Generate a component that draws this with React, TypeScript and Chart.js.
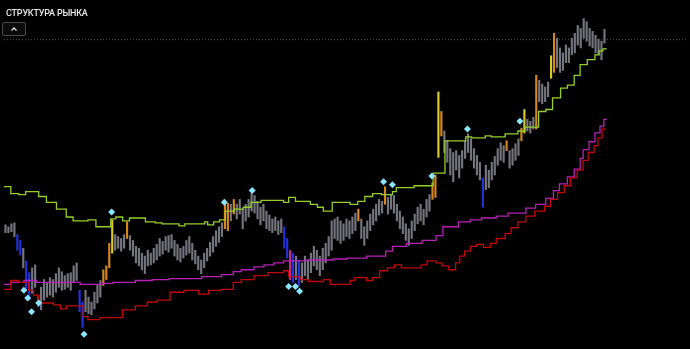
import React, { useEffect, useRef } from 'react';
import { Chart, registerables } from 'chart.js';

Chart.register(...registerables);

const titleText = 'СТРУКТУРА РЫНКА';

// Bar highs / lows (price points), one entry per bar index
const highs = [
  123, 121, 124, 125, 113, 107, 99, 86, 74, 79,
  82, 51, 59, 67, 64, 69, 67, 73, 79, 75,
  71, 73, 74, 81, 84, 56, 44, 56, 49, 44,
  54, 61, 66, 77, 81, 104, 128, 113, 111, 109,
  113, 126, 112, 107, 101, 99, 94, 91, 97, 94,
  99, 103, 109, 106, 111, 112, 113, 107, 103, 99,
  101, 107, 111, 104, 97, 91, 87, 94, 99, 105,
  111, 117, 121, 125, 147, 145, 144, 149, 144, 149,
  139, 144, 149, 155, 153, 147, 141, 144, 137, 133,
  129, 131, 127, 129, 121, 109, 97, 94, 91, 87,
  84, 91, 87, 94, 101, 97, 91, 99, 104, 111,
  127, 129, 131, 127, 124, 129, 127, 131, 135, 139,
  129, 121, 127, 134, 139, 144, 149, 147, 162, 151,
  154, 153, 144, 137, 131, 124, 119, 127, 134, 141,
  144, 139, 149, 154, 166, 174, 259, 239, 219, 209,
  201, 197, 199, 194, 199, 209, 216, 211, 201, 194,
  187, 171, 184, 179, 187, 193, 201, 207, 204, 209,
  199, 201, 206, 211, 222, 241, 231, 229, 233, 276,
  271, 267, 264, 269, 296, 319, 314, 304, 299, 307,
  304, 314, 319, 327, 324, 334, 331, 324, 321, 317,
  313, 311, 323,
];
const lows = [
  115, 115, 116, 111, 97, 92, 79, 57, 47, 53,
  59, 39, 36, 46, 49, 51, 49, 54, 59, 56,
  57, 59, 56, 64, 66, 34, 18, 34, 32, 31,
  37, 43, 49, 61, 67, 79, 94, 97, 99, 96,
  99, 109, 97, 91, 84, 81, 77, 73, 81, 82,
  84, 87, 91, 93, 97, 95, 99, 91, 87, 85,
  89, 92, 94, 87, 83, 77, 73, 79, 86, 91,
  95, 101, 105, 111, 119, 117, 127, 134, 129, 134,
  119, 127, 131, 137, 135, 129, 123, 127, 119, 117,
  115, 117, 113, 115, 99, 89, 67, 64, 67, 61,
  64, 71, 67, 74, 81, 77, 71, 77, 84, 91,
  97, 109, 107, 104, 107, 111, 109, 114, 117, 127,
  109, 102, 109, 117, 123, 127, 133, 135, 144, 134,
  139, 135, 127, 119, 114, 107, 102, 109, 117, 124,
  127, 123, 131, 137, 149, 151, 192, 214, 197, 187,
  174, 167, 179, 171, 181, 191, 197, 189, 181, 174,
  169, 141, 159, 161, 169, 174, 184, 189, 187, 199,
  181, 184, 189, 194, 209, 217, 219, 217, 221, 221,
  249, 247, 249, 254, 273, 279, 284, 279, 281, 289,
  289, 297, 299, 307, 304, 314, 311, 306, 304, 299,
  297, 292, 309,
];

// Bar states (indices)
const bearBars = [4, 5, 7, 8, 11, 25, 26, 94, 95, 97, 99, 161];
const bullBars = [33, 34, 35, 41, 74, 75, 77, 119, 128, 144, 145, 147, 169, 174, 179, 185];
const impulseBars = [36, 146, 175, 184];
const reversalBars = [96];

// Step levels: [bar index where level starts, price]
const upperLevel: [number, number][] = [
  [-0.5, 162], [1.8, 155], [4.5, 154], [6.8, 157], [11.2, 152], [13.8, 146], [17.2, 139],
  [20.5, 131], [22.8, 127], [27.8, 128], [30.5, 121], [35.5, 129], [37.2, 131], [39.5, 127],
  [41.8, 130], [47.2, 126], [50.5, 125], [52.8, 124], [58.5, 122], [60.5, 124], [67.2, 126],
  [68.2, 123], [70.2, 126], [72.2, 128], [74.2, 137], [77.2, 139], [80.2, 141], [82.8, 146],
  [86.2, 148], [93.8, 146], [95.5, 151], [97.8, 147], [102.8, 144], [105.2, 141], [107.2, 137],
  [110.2, 146], [116.2, 144], [118.8, 147], [121.2, 152], [123.8, 155], [126.8, 154],
  [130.5, 157], [131.8, 161], [137.8, 163], [144.2, 176], [148.2, 209], [155.2, 213],
  [157.2, 212], [161.8, 214], [163.8, 213], [168.5, 216], [172.8, 219], [175.2, 223],
  [179.8, 239], [182.2, 241], [184.5, 253], [187.2, 263], [189.5, 266], [191.8, 276],
  [193.8, 287], [196.2, 292], [198.8, 297], [200.2, 301], [201.5, 303], [202.5, 304],
];
const trendLevel: [number, number][] = [
  [-0.5, 62], [1.8, 64], [6.2, 66], [10.5, 64], [25.2, 62], [32.8, 63], [36.2, 64], [43.8, 66],
  [49.5, 67], [55.2, 68], [66.2, 70], [72.8, 72], [76.8, 75], [79.5, 77], [83.8, 80], [87.2, 82],
  [90.5, 84], [93.8, 86], [101.8, 87], [110.5, 88], [115.2, 89], [121.8, 91], [128.2, 96],
  [130.5, 101], [135.2, 104], [140.5, 107], [145.2, 112], [147.5, 121], [152.8, 126],
  [156.8, 128], [160.5, 130], [165.5, 132], [169.5, 135], [175.5, 140], [178.8, 144],
  [182.2, 150], [184.8, 158], [186.8, 165], [189.5, 172], [191.8, 180], [193.8, 191],
  [194.8, 200], [196.8, 208], [198.8, 217], [200.5, 224], [201.8, 231], [202.5, 232],
];
const lowerLevel: [number, number][] = [
  [-0.5, 57], [1.8, 66], [4.5, 64], [7.8, 56], [9.5, 51], [11.2, 43], [16.2, 41], [18.5, 37],
  [20.5, 40], [26.2, 29], [27.8, 26], [31.8, 28], [39.5, 36], [43.8, 40], [47.8, 44], [51.2, 46],
  [55.5, 54], [60.2, 56], [65.2, 52], [68.5, 56], [72.8, 57], [76.8, 64], [79.5, 67], [83.8, 71],
  [88.5, 74], [93.8, 76], [95.5, 70], [99.5, 67], [102.2, 65], [107.2, 67], [109.5, 62],
  [116.2, 66], [117.8, 69], [121.8, 66], [123.8, 69], [126.2, 76], [128.8, 79], [131.2, 82],
  [133.5, 79], [140.2, 82], [142.2, 86], [145.2, 84], [147.2, 81], [149.5, 77], [151.8, 84],
  [153.2, 91], [154.8, 96], [156.8, 101], [158.8, 103], [161.2, 100], [163.5, 104], [165.5, 109],
  [168.5, 114], [170.5, 120], [172.8, 126], [175.5, 132], [178.5, 137], [181.8, 142],
  [183.8, 149], [186.2, 156], [188.5, 163], [190.5, 171], [192.8, 179], [194.8, 189],
  [196.5, 197], [198.5, 204], [199.8, 212], [201.2, 221], [202.2, 222],
];

// Swing markers: [bar index, price]
const swingMarks: [number, number][] = [
  [6.2, 56], [7.5, 48], [8.8, 34], [11.2, 43], [26.5, 11], [35.8, 136], [73.8, 146],
  [83.2, 158], [95.5, 60], [97.8, 60], [99.2, 55], [127.5, 167], [130.5, 164], [143.8, 173],
  [155.8, 221], [173.5, 229],
];

const referenceLevel = 312.5;
const xRange = [-0.5, 229.5];
const yRange = [0, 349];

export default function App() {
  const ref = useRef<HTMLCanvasElement>(null);

  useEffect(() => {
    document.body.style.margin = '0';
    document.body.style.background = '#000';
    const canvas = ref.current;
    if (!canvas) return;

    const colorFor = (i: number) => {
      if (bearBars.includes(i)) return '#2233dd';
      if (reversalBars.includes(i)) return '#d0307e';
      if (impulseBars.includes(i)) return '#dccb22';
      if (bullBars.includes(i)) return '#d8861e';
      return '#74757d';
    };

    const toPts = (arr: [number, number][]) => arr.map(([x, y]) => ({ x, y }));

    const chart = new Chart(canvas, {
      type: 'line',
      data: {
        datasets: [
          {
            type: 'line',
            data: [
              { x: xRange[0], y: referenceLevel },
              { x: xRange[1], y: referenceLevel },
            ],
            borderColor: '#555555',
            borderWidth: 1,
            borderDash: [1, 2],
            pointRadius: 0,
            order: 10,
          } as any,
          {
            type: 'bar',
            data: highs.map((h, i) => ({ x: i, y: [lows[i], h] })),
            backgroundColor: highs.map((_, i) => colorFor(i)),
            borderWidth: 0,
            barThickness: 1.5,
            order: 4,
          } as any,
          {
            type: 'line',
            data: toPts(lowerLevel),
            borderColor: '#c00808',
            borderWidth: 1.3,
            stepped: true,
            pointRadius: 0,
            order: 3,
          } as any,
          {
            type: 'line',
            data: toPts(trendLevel),
            borderColor: '#b820b8',
            borderWidth: 1.3,
            stepped: true,
            pointRadius: 0,
            order: 3,
          } as any,
          {
            type: 'line',
            data: toPts(upperLevel),
            borderColor: '#93cf2c',
            borderWidth: 1.3,
            stepped: true,
            pointRadius: 0,
            order: 2,
          } as any,
          {
            type: 'line',
            data: toPts(swingMarks),
            showLine: false,
            pointStyle: 'rectRot',
            pointRadius: 3.5,
            pointBackgroundColor: '#8ae4fb',
            pointBorderWidth: 0,
            order: 0,
          } as any,
        ],
      },
      options: {
        animation: false,
        responsive: false,
        devicePixelRatio: 1,
        layout: { padding: 0 },
        plugins: {
          legend: { display: false },
          tooltip: { enabled: false },
          title: { display: false },
        },
        scales: {
          x: {
            type: 'linear',
            min: xRange[0],
            max: xRange[1],
            offset: false,
            display: false,
            grid: { display: false },
          },
          y: {
            type: 'linear',
            min: yRange[0],
            max: yRange[1],
            display: false,
            grid: { display: false },
          },
        },
      } as any,
    });
    return () => chart.destroy();
  }, []);

  return (
    <div
      style={{
        position: 'fixed',
        left: 0,
        top: 0,
        width: 690,
        height: 349,
        background: '#000',
        overflow: 'hidden',
      }}
    >
      <canvas
        ref={ref}
        width={690}
        height={349}
        style={{ position: 'absolute', left: 0, top: 0, width: 690, height: 349 }}
      />
      <div
        style={{
          position: 'absolute',
          left: 6,
          top: 9,
          color: '#e8e8e8',
          fontFamily: 'Roboto, "Open Sans", sans-serif',
          fontSize: 9,
          fontWeight: 500,
          lineHeight: '9px',
          letterSpacing: -0.2,
          whiteSpace: 'nowrap',
        }}
      >
        {titleText}
      </div>
      <div
        style={{
          position: 'absolute',
          left: 2,
          top: 22,
          width: 22,
          height: 12,
          border: '1px solid #4a4a4a',
          borderRadius: 2,
          background: '#0a0a0a',
        }}
      >
        <svg width={22} height={12} style={{ position: 'absolute', left: 0, top: 0 }}>
          <polyline points="8.5,7.5 11,5 13.5,7.5" fill="none" stroke="#e0e0e0" strokeWidth={1.3} />
        </svg>
      </div>
    </div>
  );
}
